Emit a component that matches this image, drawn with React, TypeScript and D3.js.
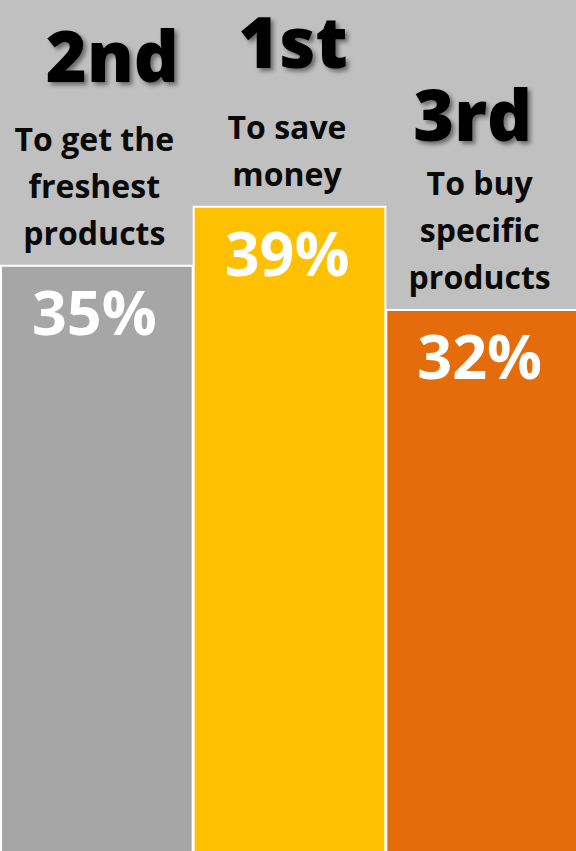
import React from "react";
import * as d3 from "d3";

const categories = ["freshest", "save", "specific"];
const values = [35, 39, 32];
const valueLabels = ["35%", "39%", "32%"];
const ranks = ["2nd", "1st", "3rd"];
const reasonLines = [
  ["To get the", "freshest", "products"],
  ["To save", "money"],
  ["To buy", "specific", "products"],
];
const colors = ["#a6a6a6", "#ffc000", "#e46c0a"];

// layout nudges for the rank headings (relative to bar centre / first label line)
const RANK_NUDGE = [
  { dx: 16, dy: -69 },
  { dx: 4, dy: -71 },
  { dx: -9, dy: -54 },
];

const W = 576;
const H = 851;
const FONT = "'Open Sans', 'Noto Sans', sans-serif";

export default function App() {
  const x = d3.scaleBand<string>().domain(categories).range([0, 578]).padding(0);
  const y = d3.scaleLinear().domain([0, 40]).range([782, 192]);
  const lineGap = 47;

  return (
    <svg
      width={W}
      height={H}
      viewBox={`0 0 ${W} ${H}`}
      style={{ position: "absolute", left: 0, top: 0, display: "block" }}
    >
      <defs>
        <filter id="shadow" x="-20%" y="-20%" width="140%" height="140%">
          <feDropShadow dx="3" dy="3" stdDeviation="2.2" floodColor="#000" floodOpacity="0.45" />
        </filter>
      </defs>
      <rect x={0} y={0} width={W} height={H} fill="#c0c0c0" />
      {categories.map((c, i) => {
        const x0 = x(c) as number;
        const bw = x.bandwidth();
        const top = y(values[i]);
        const cx = x0 + bw / 2;
        const lines = reasonLines[i];
        const lastBase = top - 21;
        const firstBase = lastBase - (lines.length - 1) * lineGap;
        return (
          <g key={c}>
            <rect
              x={x0 + 1}
              y={top}
              width={bw - 1}
              height={H - top + 10}
              fill={colors[i]}
              stroke="#ffffff"
              strokeWidth={2}
            />
            <text
              x={cx - 2}
              y={top + 69}
              textAnchor="middle"
              fontFamily={FONT}
              fontWeight={700}
              fontSize={61}
              fill="#ffffff"
            >
              {valueLabels[i]}
            </text>
            {lines.map((ln, j) => (
              <text
                key={j}
                x={cx - 2}
                y={firstBase + j * lineGap}
                textAnchor="middle"
                fontFamily={FONT}
                fontWeight={700}
                fontSize={32}
                fill="#0a0a0a"
              >
                {ln}
              </text>
            ))}
            <text
              x={cx + RANK_NUDGE[i].dx}
              y={firstBase + RANK_NUDGE[i].dy}
              textAnchor="middle"
              fontFamily={FONT}
              fontWeight={800}
              fontSize={70}
              fill="#000000"
              filter="url(#shadow)"
            >
              {ranks[i]}
            </text>
          </g>
        );
      })}
    </svg>
  );
}
